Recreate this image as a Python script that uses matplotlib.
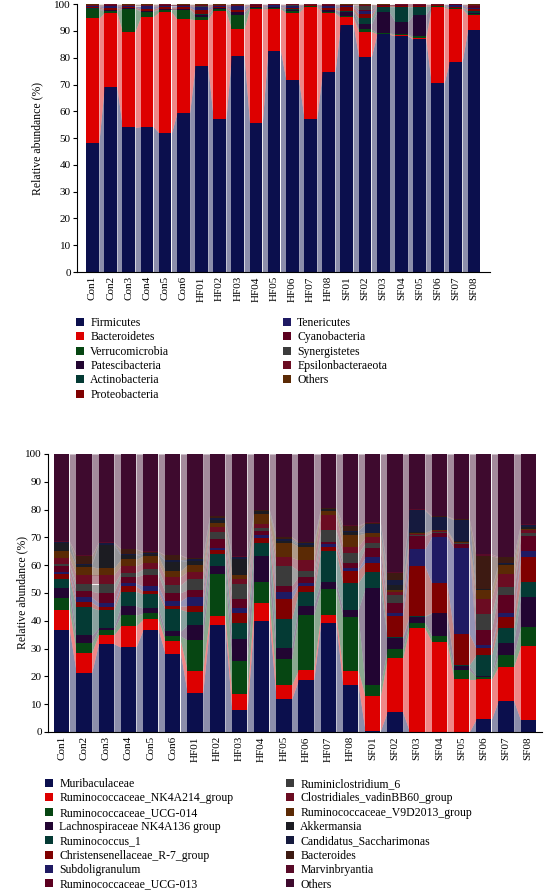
import numpy as np
import matplotlib
matplotlib.use("Agg")
import matplotlib.pyplot as plt
from matplotlib.patches import Patch

plt.rcParams['font.family'] = ['Liberation Serif', 'DejaVu Serif']

samples = ['Con1', 'Con2', 'Con3', 'Con4', 'Con5', 'Con6',
           'HF01', 'HF02', 'HF03', 'HF04', 'HF05', 'HF06', 'HF07', 'HF08',
           'SF01', 'SF02', 'SF03', 'SF04', 'SF05', 'SF06', 'SF07', 'SF08']

# ---- phylum level (top panel) ----
phyla = ['Firmicutes', 'Bacteroidetes', 'Verrucomicrobia', 'Patescibacteria',
         'Actinobacteria', 'Proteobacteria', 'Tenericutes', 'Cyanobacteria',
         'Synergistetes', 'Epsilonbacteraeota', 'Others']
phylum_colors = ['#0b0f4d', '#dd0000', '#064612', '#220532', '#043a34', '#7f0000',
                 '#1f1a63', '#5c0020', '#3b3b3b', '#6b0c22', '#5b2a05']

firmicutes = [48, 69, 54, 54.3, 52, 59.3, 77, 57.3, 80.8, 55.6, 82.6, 71.8, 57.3, 74.5,
              92.3, 80.4, 88.7, 88.2, 86.9, 70.5, 78.6, 90.4]
bacteroidetes = [46.7, 27.8, 35.8, 41.0, 45.1, 35.2, 17.2, 40.2, 10.0, 42.7, 15.7, 25.0, 41.8, 22.3,
                 2.8, 9.4, 0.3, 0.3, 0.5, 28.3, 19.7, 5.6]
verrucomicrobia = [3.4, 0.6, 8.5, 1.9, 0.9, 3.5, 1.0, 0.8, 5.2, 0.3, 0.2, 0.6, 0.1, 0.4,
                   0.4, 0.8, 0.3, 0.3, 0.6, 0.5, 0.1, 0.4]
patescibacteria = [0.2, 0.3, 0.1, 0.2, 0.1, 0.1, 0.8, 0.3, 1.0, 0.3, 0.3, 0.5, 0.1, 0.6,
                   1.7, 2.0, 7.7, 4.7, 8.0, 0.05, 0.1, 0.2]
actinobacteria = [0.2, 0.2, 0.1, 0.2, 0.2, 0.2, 0.3, 0.1, 0.2, 0.1, 0.1, 0.3, 0.05, 0.2,
                  0.3, 2.2, 2.1, 5.6, 3.1, 0.1, 0.1, 1.0]
proteobacteria = [0.5, 0.5, 0.5, 0.6, 0.6, 0.5, 1.5, 0.3, 0.8, 0.3, 0.2, 0.5, 0.2, 0.6,
                  1.5, 1.5, 0.2, 0.2, 0.2, 0.2, 0.2, 0.5]
tenericutes = [0.2, 1.0, 0.2, 1.0, 0.5, 0.6, 1.0, 0.3, 1.2, 0.2, 0.6, 0.6, 0.2, 0.8,
               0.3, 1.0, 0.1, 0.1, 0.1, 0.1, 1.0, 0.5]
cyanobacteria = [0.2, 0.2, 0.2, 0.2, 0.2, 0.2, 0.3, 0.2, 0.2, 0.2, 0.1, 0.2, 0.1, 0.2,
                 0.3, 0.7, 0.2, 0.2, 0.2, 0.1, 0.1, 0.6]
synergistetes = [0.1, 0.1, 0.0, 0.1, 0.1, 0.0, 0.1, 0.0, 0.0, 0.0, 0.0, 0.1, 0.0, 0.0,
                 0.0, 1.5, 0.0, 0.0, 0.0, 0.0, 0.0, 0.1]
epsilonbacteraeota = [0.2, 0.2, 0.2, 0.2, 0.2, 0.2, 0.5, 0.3, 0.3, 0.3, 0.2, 0.3, 0.15, 0.3,
                      0.2, 0.3, 0.2, 0.3, 0.3, 0.1, 0.1, 0.5]
phylum_others = [0.3, 0.1, 0.4, 0.3, 0.1, 0.2, 0.3, 0.2, 0.3, 0.0, 0.0, 0.1, 0.0, 0.1,
                 0.2, 0.2, 0.1, 0.1, 0.1, 0.05, 0.0, 0.2]

phylum_values = [firmicutes, bacteroidetes, verrucomicrobia, patescibacteria, actinobacteria,
                 proteobacteria, tenericutes, cyanobacteria, synergistetes,
                 epsilonbacteraeota, phylum_others]

# ---- genus level (bottom panel) ----
genera = ['Muribaculaceae', 'Ruminococcaceae_NK4A214_group', 'Ruminococcaceae_UCG-014',
          'Lachnospiraceae NK4A136 group', 'Ruminococcus_1', 'Christensenellaceae_R-7_group',
          'Subdoligranulum', 'Ruminococcaceae_UCG-013', 'Ruminiclostridium_6',
          'Clostridiales_vadinBB60_group', 'Ruminococcaceae_V9D2013_group', 'Akkermansia',
          'Candidatus_Saccharimonas', 'Bacteroides', 'Marvinbryantia', 'Others']
genus_colors = ['#0b0f4d', '#dd0000', '#064612', '#220532', '#043a34', '#7f0000',
                '#1f1a63', '#5c0020', '#3b3b3b', '#6b0c22', '#5b2a05', '#1c1c22',
                '#151a3e', '#3d1a12', '#580a28', '#3e0a2e']

muribaculaceae = [36.7, 21.3, 31.7, 30.5, 36.7, 28.1, 13.9, 38.5, 7.9, 40.0, 11.8, 18.7, 39.1, 16.9,
                  0.5, 7.3, 0.1, 0.0, 0.0, 4.6, 11.3, 4.3]
nk4a214 = [7.2, 7.2, 3.2, 7.6, 3.8, 4.6, 8.0, 3.3, 5.8, 6.3, 5.1, 3.6, 3.0, 5.2,
           12.4, 19.2, 37.2, 32.5, 18.9, 14.3, 12.2, 26.6]
ucg014 = [4.2, 3.4, 1.8, 3.9, 2.2, 1.8, 11.2, 15.0, 12.0, 7.8, 9.2, 19.8, 9.2, 19.4,
          4.0, 3.2, 2.0, 2.0, 3.4, 1.0, 4.2, 6.7]
nk4a136 = [3.6, 2.8, 0.8, 3.3, 1.9, 1.8, 5.4, 2.9, 7.8, 9.2, 4.0, 3.3, 2.8, 2.4,
           34.8, 4.0, 2.2, 8.2, 1.4, 0.4, 4.4, 11.1]
ruminococcus_1 = [3.2, 10.1, 6.4, 5.2, 5.0, 7.8, 4.8, 4.3, 5.6, 4.8, 10.4, 4.8, 11.0, 9.8,
                  5.7, 0.6, 0.3, 0.2, 0.4, 7.4, 5.2, 5.4]
christensenellaceae = [1.9, 1.8, 1.2, 2.0, 1.0, 1.2, 2.0, 1.5, 3.6, 1.6, 7.2, 2.3, 1.6, 4.3,
                       3.5, 7.4, 17.9, 10.6, 11.2, 2.4, 4.2, 8.7]
subdoligranulum = [0.8, 1.8, 1.4, 1.0, 1.9, 1.8, 3.4, 0.7, 1.9, 1.0, 2.7, 1.0, 0.8, 0.8,
                   1.9, 1.2, 6.0, 16.8, 30.8, 1.2, 1.4, 2.4]
ucg013 = [2.1, 2.2, 3.6, 2.4, 4.0, 3.0, 2.4, 3.1, 3.1, 1.5, 2.1, 2.4, 1.0, 1.9,
          3.3, 3.6, 4.8, 1.4, 1.5, 5.4, 6.4, 5.3]
ruminiclostridium_6 = [0.7, 2.5, 3.0, 1.4, 2.0, 2.8, 3.8, 2.8, 5.5, 1.1, 7.2, 2.1, 4.2, 3.6,
                       1.8, 2.8, 0.3, 0.2, 0.2, 5.7, 3.0, 1.2]
vadinbb60 = [2.1, 3.4, 3.4, 2.4, 2.4, 3.0, 2.8, 1.5, 1.7, 1.5, 3.1, 3.9, 5.4, 2.4,
             2.1, 1.2, 0.4, 0.3, 0.3, 5.3, 4.5, 1.0]
v9d2013 = [2.7, 3.0, 2.4, 2.4, 2.4, 2.1, 2.4, 1.5, 1.6, 3.6, 5.3, 4.8, 1.4, 4.2,
           1.5, 0.6, 0.4, 0.4, 0.4, 3.4, 3.3, 0.4]
akkermansia = [2.7, 0.6, 8.4, 1.4, 0.7, 3.3, 1.5, 1.2, 5.6, 0.9, 0.7, 0.6, 0.6, 1.2,
               0.2, 1.8, 0.2, 0.2, 0.2, 0.2, 0.3, 0.5]
saccharimonas = [0.4, 0.3, 0.6, 0.5, 0.5, 0.6, 0.5, 0.6, 0.7, 0.3, 0.5, 0.6, 0.2, 0.3,
                 3.1, 1.8, 7.9, 4.5, 7.6, 0.3, 0.3, 0.7]
bacteroides = [0.2, 2.9, 0.2, 1.7, 0.3, 1.6, 0.3, 0.6, 0.3, 0.2, 0.7, 0.3, 0.2, 1.7,
               0.3, 2.4, 0.2, 0.2, 0.2, 11.7, 2.1, 0.3]
marvinbryantia = [0.2, 0.2, 0.2, 0.2, 0.2, 0.2, 0.3, 0.3, 0.2, 0.2, 0.2, 0.3, 0.2, 0.3,
                  0.3, 0.4, 0.2, 0.2, 0.2, 0.7, 0.3, 0.3]
genus_others = [31.3, 36.5, 31.7, 34.1, 35.0, 36.3, 37.3, 22.2, 36.7, 20.0, 29.8, 31.5, 19.3, 25.6,
                24.6, 42.5, 19.9, 22.3, 23.3, 36.0, 36.9, 25.1]

genus_values = [muribaculaceae, nk4a214, ucg014, nk4a136, ruminococcus_1, christensenellaceae,
                subdoligranulum, ucg013, ruminiclostridium_6, vadinbb60, v9d2013, akkermansia,
                saccharimonas, bacteroides, marvinbryantia, genus_others]


def flow_bars(ax, values, colors, width=0.7, alpha=0.47):
    x = np.arange(len(samples))
    data = np.array(values, dtype=float)
    bottoms = np.vstack([np.zeros(data.shape[1]), np.cumsum(data, axis=0)[:-1]])
    for row, bot, col in zip(data, bottoms, colors):
        top = bot + row
        # translucent bands linking neighbouring bars
        for i in range(len(x) - 1):
            xs = [x[i] + width / 2, x[i + 1] - width / 2]
            ax.fill_between(xs, [bot[i], bot[i + 1]], [top[i], top[i + 1]],
                            color=col, alpha=alpha, lw=0)
        ax.bar(x, row, width, bottom=bot, color=col, lw=0)
    ax.set_xticks(x)
    ax.set_xticklabels(samples, rotation=90)
    ax.set_ylim(0, 100)
    ax.set_yticks(range(0, 101, 10))
    ax.spines['top'].set_visible(False)
    ax.spines['right'].set_visible(False)
    ax.tick_params(axis='x', length=0, labelsize=8, pad=3)
    ax.tick_params(axis='y', length=3, labelsize=8, pad=1.5)
    ax.set_ylabel('Relative abundance (%)', fontsize=8.5)


fig = plt.figure(figsize=(5.44, 8.92), dpi=100)

ax1 = fig.add_axes([0.1415, 0.695, 0.7592, 0.3003])
flow_bars(ax1, phylum_values, phylum_colors)
ax1.set_xlim(-0.85, 21.88)
ax1.yaxis.labelpad = 8

ax2 = fig.add_axes([0.0882, 0.1794, 0.9081, 0.3117])
flow_bars(ax2, genus_values, genus_colors, width=0.69)
ax2.set_xlim(-0.62, 21.62)
ax2.yaxis.labelpad = -2

legend_kw = dict(frameon=False, fontsize=8.5, handlelength=0.65, handleheight=0.65,
                 handletextpad=0.55, labelspacing=0.2, borderpad=0, borderaxespad=0)


def column_legend(names, colors, x, y_top):
    handles = [Patch(facecolor=c, edgecolor='none') for c in colors]
    fig.legend(handles, names, loc='upper left',
               bbox_to_anchor=(x / 544, 1 - y_top / 892), **legend_kw)


column_legend(phyla[:6], phylum_colors[:6], 76, 317)
column_legend(phyla[6:], phylum_colors[6:], 283, 317)
column_legend(genera[:8], genus_colors[:8], 45, 778)
column_legend(genera[8:], genus_colors[8:], 286, 778)

fig.savefig('out.png', dpi=100)
